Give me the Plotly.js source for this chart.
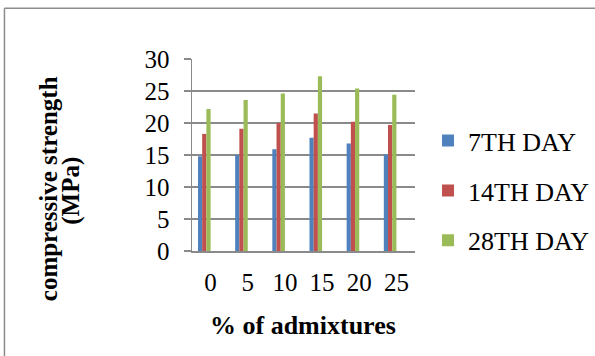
<!DOCTYPE html>
<html>
<head>
<meta charset="utf-8">
<script src="https://cdn.plot.ly/plotly-3.0.1.min.js"></script>
<style>
  html, body { margin: 0; padding: 0; background: #ffffff; }
  #chart { width: 595px; height: 356px; }
</style>
</head>
<body>
<div id="chart"></div>
<script>
// Admixture percentages (category axis)
const admixtures = ['0', '5', '10', '15', '20', '25'];

// Compressive strength (MPa) at each curing age
const day7  = [14.8, 15.0, 15.9, 17.7, 16.8, 15.1];
const day14 = [18.3, 19.1, 20.0, 21.5, 20.2, 19.7];
const day28 = [22.2, 23.6, 24.6, 27.3, 25.4, 24.4];

const seriesNames = ['7TH DAY', '14TH DAY', '28TH DAY'];

const serif = '"Liberation Serif", "Times New Roman", serif';
const gridGray = '#8a8a8a';

// Plot area in pixels
const W = 595, H = 356;
const plotL = 192.3, plotR = 415, plotT = 59.3, plotB = 251.3;
const pw = plotR - plotL, ph = plotB - plotT;
const px = x => (x - plotL) / pw;
const py = y => (plotB - y) / ph;

const barW = 0.113;
function barTrace(name, values, color, offset) {
  return {
    type: 'bar',
    name: name,
    x: admixtures,
    y: values,
    width: barW,
    offset: offset,
    legendgroup: name,
    marker: { color: color, line: { width: 0 } },
    hoverinfo: 'x+y+name'
  };
}

const data = [
  barTrace(seriesNames[0], day7,  '#4f81bd', -0.339),
  barTrace(seriesNames[1], day14, '#c0504d', -0.226),
  barTrace(seriesNames[2], day28, '#9bbb59', -0.113)
];

const titleFont = size => ({ family: serif, size: size, color: '#000000', weight: 'bold' });

const layout = {
  width: W,
  height: H,
  margin: { l: plotL, r: W - plotR, t: plotT, b: H - plotB, pad: 0, autoexpand: false },
  paper_bgcolor: '#ffffff',
  plot_bgcolor: '#ffffff',
  font: { family: serif, color: '#000000', size: 25 },
  showlegend: true,
  legend: {
    x: px(428), y: py(191), xanchor: 'left', yanchor: 'middle',
    font: { family: serif, size: 26, color: '#000000' },
    traceorder: 'grouped',
    tracegroupgap: 13,
    bgcolor: 'rgba(0,0,0,0)',
    borderwidth: 0
  },
  xaxis: {
    type: 'category',
    showgrid: false,
    zeroline: false,
    showline: true,
    linecolor: gridGray,
    linewidth: 1.5,
    ticks: '',
    tickfont: { family: serif, size: 25, color: '#000000' },
    ticklabelstandoff: 8,
    fixedrange: true
  },
  yaxis: {
    range: [0, 30],
    dtick: 5,
    tick0: 0,
    showgrid: true,
    gridcolor: gridGray,
    gridwidth: 1.5,
    zeroline: false,
    showline: true,
    linecolor: gridGray,
    linewidth: 1.5,
    ticks: 'outside',
    ticklen: 7,
    tickwidth: 1.5,
    tickcolor: gridGray,
    tickfont: { family: serif, size: 25, color: '#000000' },
    ticklabelstandoff: 9,
    fixedrange: true
  },
  annotations: [
    {
      text: '% of admixtures',
      xref: 'paper', yref: 'paper',
      x: px(303.5), y: py(326),
      xanchor: 'center', yanchor: 'middle',
      showarrow: false,
      font: titleFont(26)
    },
    {
      text: 'compressive strength',
      xref: 'paper', yref: 'paper',
      x: px(49), y: py(189),
      xanchor: 'center', yanchor: 'middle',
      textangle: -90,
      showarrow: false,
      font: titleFont(25)
    },
    {
      text: '(MPa)',
      xref: 'paper', yref: 'paper',
      x: px(72), y: py(191.5),
      xanchor: 'center', yanchor: 'middle',
      textangle: -90,
      showarrow: false,
      font: titleFont(25)
    }
  ],
  shapes: [
    // chart frame: top and left edges
    { type: 'line', xref: 'paper', yref: 'paper', x0: px(5), x1: px(600), y0: py(8.5), y1: py(8.5),
      line: { color: '#8c8c8c', width: 1.5 } },
    { type: 'line', xref: 'paper', yref: 'paper', x0: px(5), x1: px(5), y0: py(8.5), y1: py(360),
      line: { color: '#8c8c8c', width: 1.5 } }
  ]
};

Plotly.newPlot('chart', data, layout, { displayModeBar: false, staticPlot: true });
</script>
</body>
</html>
